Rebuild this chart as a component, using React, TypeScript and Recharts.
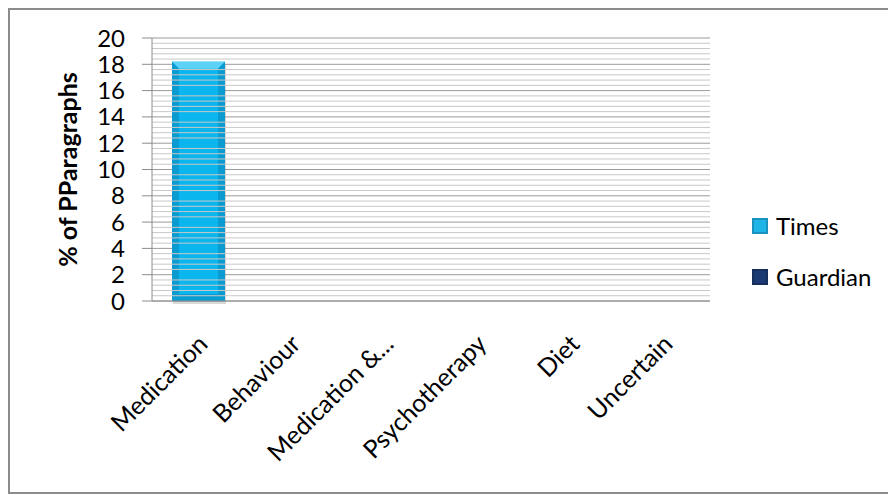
import { BarChart, Bar, XAxis, YAxis, CartesianGrid, Legend, ReferenceLine } from 'recharts';

const categories = ['Medication', 'Behaviour', 'Medication &...', 'Psychotherapy', 'Diet', 'Uncertain'];
const timesValues = [18.2, 0, 0, 0, 0, 0];
const guardianValues = [0, 0, 0, 0, 0, 0];
const yTicks = [0, 2, 4, 6, 8, 10, 12, 14, 16, 18, 20];
const minorTicks = [
  0.4, 0.8, 1.2, 1.6, 2.4, 2.8, 3.2, 3.6, 4.4, 4.8, 5.2, 5.6, 6.4, 6.8, 7.2, 7.6, 8.4, 8.8, 9.2, 9.6,
  10.4, 10.8, 11.2, 11.6, 12.4, 12.8, 13.2, 13.6, 14.4, 14.8, 15.2, 15.6, 16.4, 16.8, 17.2, 17.6, 18.4, 18.8, 19.2, 19.6,
];

const data = categories.map((name, i) => ({ name, Times: timesValues[i], Guardian: guardianValues[i] }));

const FONT = 'Lato, "Open Sans", sans-serif';

// Excel-style bevelled bar
const BevelBar = (props: any) => {
  const { x, y, width, height, fill, dark, light } = props;
  if (!height || height <= 0) return null;
  const b = Math.min(7, width / 4, height / 4);
  return (
    <g>
      <rect x={x + 1} y={y + 3} width={width} height={height} fill="rgba(0,0,0,0.15)" />
      <rect x={x} y={y} width={width} height={height} fill={fill} />
      <polygon points={`${x},${y} ${x + width},${y} ${x + width - b},${y + b} ${x + b},${y + b}`} fill={light} />
      <polygon points={`${x},${y} ${x + b},${y + b} ${x + b},${y + height - b} ${x},${y + height}`} fill={dark} />
      <polygon
        points={`${x + width},${y} ${x + width},${y + height} ${x + width - b},${y + height - b} ${x + width - b},${y + b}`}
        fill={dark}
      />
      <polygon
        points={`${x},${y + height} ${x + b},${y + height - b} ${x + width - b},${y + height - b} ${x + width},${y + height}`}
        fill={dark}
      />
    </g>
  );
};

const renderLegend = () => {
  const items = [
    { label: 'Times', color: '#1FB4E8' },
    { label: 'Guardian', color: '#1B3A72' },
  ];
  return (
    <div style={{ paddingLeft: 42, fontFamily: FONT, fontSize: 24, color: '#000', lineHeight: '28px' }}>
      {items.map((it, i) => (
        <div
          key={it.label}
          style={{ display: 'flex', alignItems: 'center', whiteSpace: 'nowrap', marginTop: i === 0 ? 0 : 23 }}
        >
          <span
            style={{
              width: 16,
              height: 16,
              flexShrink: 0,
              background: it.color,
              boxShadow: 'inset 0 0 0 2px rgba(0,0,0,0.18)',
              marginRight: 8,
              display: 'inline-block',
            }}
          />
          <span>{it.label}</span>
        </div>
      ))}
    </div>
  );
};

export default function App() {
  return (
    <div style={{ width: 881, height: 482, border: '2px solid #8C8C8C', background: '#fff' }}>
      <BarChart width={881} height={482} data={data} margin={{ top: 28, right: 1, left: 0, bottom: 0 }}>
        {minorTicks.map((v) => (
          <ReferenceLine key={v} y={v} stroke="#C8C8C8" strokeWidth={1} ifOverflow="hidden" />
        ))}
        <CartesianGrid vertical={false} stroke="#9A9A9A" />
        <XAxis
          dataKey="name"
          interval={0}
          height={191}
          angle={-45}
          textAnchor="end"
          tickLine={false}
          tickMargin={26}
          axisLine={{ stroke: '#8C8C8C' }}
          tick={{ fontSize: 25, fill: '#000', fontFamily: FONT, dx: -2 }}
        />
        <YAxis
          domain={[0, 20]}
          ticks={yTicks}
          width={142}
          interval={0}
          tickSize={10}
          tickMargin={17}
          tickLine={{ stroke: '#8C8C8C' }}
          axisLine={{ stroke: '#8C8C8C' }}
          tick={{ fontSize: 24, fill: '#000', fontFamily: FONT }}
          label={{
            value: '% of PParagraphs',
            angle: -90,
            position: 'insideLeft',
            dx: 53,
            style: { textAnchor: 'middle', fontSize: 25, fontWeight: 'bold', fill: '#000', fontFamily: FONT },
          }}
        />
        <Legend layout="vertical" align="right" verticalAlign="middle" width={180} content={renderLegend} />
        <Bar
          dataKey="Times"
          stackId="a"
          fill="#0BB6EE"
          barSize={53}
          isAnimationActive={false}
          shape={(p: any) => <BevelBar {...p} fill="#0BB6EE" dark="#0A9BD0" light="#5CD3F6" />}
        />
        <Bar
          dataKey="Guardian"
          stackId="a"
          fill="#1B3A72"
          barSize={53}
          isAnimationActive={false}
          shape={(p: any) => <BevelBar {...p} fill="#1B3A72" dark="#122A55" light="#3A5A92" />}
        />
      </BarChart>
    </div>
  );
}
